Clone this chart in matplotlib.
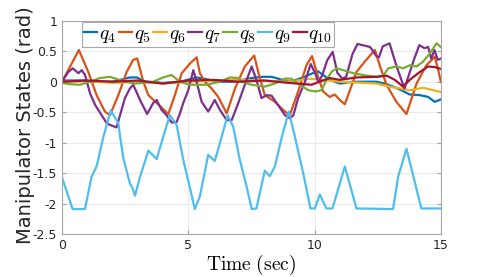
import matplotlib
matplotlib.use("Agg")
import matplotlib.pyplot as plt

plt.rcParams["mathtext.fontset"] = "cm"

# joint trajectories
t4 = [0, 0.9, 1.2, 2.0, 2.69, 2.96, 3.3, 4.0, 4.7, 5.33, 5.6, 6.2, 6.8, 7.51, 7.9, 8.3, 8.56, 9.0,
      9.27, 9.6, 9.93, 10.14, 10.34, 10.6, 11.0, 11.53, 12.45, 12.78, 13.11, 13.44, 13.77, 14.17,
      14.5, 14.76, 15]
q4 = [0.02, 0.02, 0.0, 0.0, 0.07, 0.07, 0.0, -0.02, 0.0, 0.07, 0.05, 0.0, 0.0, 0.06, 0.08, 0.08,
      0.05, 0.0, 0.03, 0.08, 0.14, 0.17, 0.11, 0.03, -0.03, 0.0, 0.0, -0.03, -0.08, -0.14, -0.21,
      -0.22, -0.25, -0.33, -0.29]

t5 = [0, 0.67, 1.04, 1.37, 1.7, 1.9, 2.23, 2.56, 2.82, 2.98, 3.22, 3.42, 3.75, 4.21, 4.47, 4.74,
      5.07, 5.33, 5.46, 5.66, 5.92, 6.19, 6.52, 6.85, 7.24, 7.61, 7.77, 8.03, 8.43, 8.83, 9.02,
      9.35, 9.68, 9.9, 10.14, 10.34, 10.6, 10.8, 11.0, 11.2, 11.4, 11.66, 11.99, 12.39, 12.58,
      12.85, 13.24, 13.64, 14.04, 14.43, 14.76, 14.9, 15]
q5 = [0.0, 0.52, 0.16, -0.22, -0.49, -0.55, -0.22, 0.16, 0.36, 0.38, 0.0, -0.22, -0.35, -0.53,
      -0.22, 0.14, 0.3, 0.4, 0.14, 0.0, -0.11, -0.25, -0.52, -0.11, 0.25, 0.43, 0.16, -0.22, -0.33,
      -0.49, -0.55, -0.16, 0.27, 0.42, 0.08, -0.16, -0.25, -0.21, -0.3, -0.37, -0.14, 0.16, 0.33,
      0.52, 0.27, -0.05, -0.33, -0.53, -0.03, 0.27, 0.41, 0.19, 0.0]

t6 = [0, 1, 2, 3, 4, 5, 6, 7, 8, 9, 9.81, 10.34, 11, 12.45, 12.98, 13.77, 14.3, 14.7, 15]
q6 = [0.0, 0.01, -0.02, 0.0, -0.03, 0.0, 0.02, 0.03, 0.02, 0.0, 0.05, 0.03, 0.0, -0.03, -0.08,
      -0.14, -0.1, -0.14, -0.17]

t7 = [0, 0.25, 0.42, 0.65, 0.78, 0.91, 1.11, 1.31, 1.57, 1.77, 1.9, 2.16, 2.36, 2.49, 2.69, 2.82,
      3.09, 3.37, 3.61, 3.75, 3.94, 4.14, 4.34, 4.54, 4.67, 4.8, 5.0, 5.2, 5.33, 5.53, 5.79, 6.05,
      6.25, 6.52, 6.72, 6.98, 7.24, 7.51, 7.7, 7.9, 8.1, 8.3, 8.5, 8.83, 9.02, 9.16, 9.35, 9.62,
      9.85, 10.0, 10.15, 10.3, 10.5, 10.72, 10.9, 11.1, 11.25, 11.5, 11.7, 12.2, 12.45, 12.55,
      12.7, 12.97, 13.25, 13.56, 13.95, 14.15, 14.35, 14.5, 14.62, 14.75, 14.88, 15]
q7 = [0.0, 0.16, 0.22, 0.14, 0.19, 0.11, -0.19, -0.38, -0.55, -0.68, -0.71, -0.75, -0.46, -0.27,
      -0.11, -0.05, -0.3, -0.53, -0.35, -0.3, -0.46, -0.55, -0.67, -0.66, -0.52, -0.35, -0.14,
      0.19, 0.0, -0.33, -0.49, -0.3, -0.46, -0.63, -0.63, -0.35, -0.05, 0.25, 0.03, -0.27, -0.22,
      -0.23, -0.35, -0.55, -0.6, -0.55, -0.27, 0.0, 0.29, 0.16, 0.0, 0.1, 0.35, 0.49, 0.15, 0.05,
      0.08, 0.45, 0.62, 0.57, 0.42, 0.4, 0.58, 0.63, 0.25, -0.11, 0.38, 0.6, 0.55, 0.57, 0.38,
      0.52, 0.36, 0.38]

t8 = [0, 0.32, 0.71, 1.1, 1.5, 1.9, 2.49, 2.9, 3.61, 4.0, 4.34, 4.67, 5.07, 5.73, 6.25, 6.65,
      6.98, 7.11, 7.51, 8.03, 8.43, 8.83, 9.09, 9.42, 9.75, 10.05, 10.27, 10.47, 10.67, 10.87,
      11.13, 11.53, 11.92, 12.45, 12.72, 12.92, 13.24, 13.5, 13.77, 14.04, 14.3, 14.56, 14.83, 15]
q8 = [-0.02, -0.04, -0.05, 0.0, 0.06, 0.08, 0.0, -0.03, 0.0, 0.07, 0.11, 0.0, -0.05, -0.05, 0.0,
      0.07, 0.06, 0.0, -0.05, -0.08, -0.03, 0.05, 0.05, -0.05, -0.14, -0.16, -0.14, 0.03, 0.16,
      0.22, 0.19, 0.14, 0.11, 0.08, 0.1, 0.22, 0.25, 0.22, 0.27, 0.25, 0.33, 0.46, 0.63, 0.57]

t9 = [0, 0.42, 0.91, 1.17, 1.37, 1.64, 1.93, 2.23, 2.3, 2.43, 2.69, 2.8, 2.89, 3.09, 3.42, 3.75,
      4.01, 4.27, 4.54, 4.8, 5.07, 5.26, 5.46, 5.79, 6.05, 6.25, 6.56, 6.78, 7.04, 7.31, 7.51,
      7.7, 8.03, 8.23, 8.43, 8.69, 8.98, 9.22, 9.55, 9.84, 10.01, 10.21, 10.47, 10.71, 11.2,
      11.66, 13.11, 13.31, 13.64, 14.23, 15]
q9 = [-1.57, -2.09, -2.09, -1.56, -1.39, -0.9, -0.47, -0.68, -0.9, -1.26, -1.67, -1.75, -1.87,
      -1.56, -1.13, -1.27, -0.9, -0.55, -0.71, -1.28, -1.75, -2.09, -1.88, -1.2, -1.3, -1.01,
      -0.55, -0.74, -1.28, -1.72, -2.09, -2.08, -1.46, -1.55, -1.39, -0.93, -0.49, -0.9, -1.5,
      -2.08, -2.08, -1.85, -2.08, -2.08, -1.39, -2.08, -2.09, -1.56, -1.1, -2.08, -2.08]

t10 = [0, 1, 2, 3, 4, 5, 6, 7, 8, 9, 9.88, 10.2, 10.6, 11.0, 11.66, 12.45, 12.85, 13.18, 13.5,
       13.77, 14.17, 14.5, 14.76, 15]
q10 = [0.0, 0.02, 0.0, 0.02, -0.03, 0.02, 0.03, 0.0, 0.02, -0.02, -0.05, 0.0, 0.06, 0.03, 0.07,
       0.08, 0.1, 0.03, -0.08, 0.03, 0.16, 0.25, 0.24, 0.21]

series = [(t4, q4, "#0072BD", "$q_{4}$"),
          (t5, q5, "#D95319", "$q_{5}$"),
          (t6, q6, "#EDB120", "$q_{6}$"),
          (t7, q7, "#7E2F8E", "$q_{7}$"),
          (t8, q8, "#77AC30", "$q_{8}$"),
          (t9, q9, "#4DBEEE", "$q_{9}$"),
          (t10, q10, "#A2142F", "$q_{10}$")]

fig = plt.figure(figsize=(4.86, 2.77), dpi=100)
ax = fig.add_axes([0.1276, 0.155, 0.7794, 0.770])

for t, q, c, lab in series:
    ax.plot(t, q, color=c, lw=1.6, label=lab)

ax.set_xlim(0, 15)
ax.set_ylim(-2.5, 1)
ax.set_xticks([0, 5, 10, 15])
ax.set_yticks([-2.5, -2, -1.5, -1, -0.5, 0, 0.5, 1])
ax.set_yticklabels(["-2.5", "-2", "-1.5", "-1", "-0.5", "0", "0.5", "1"])
ax.grid(True, color="#ebebeb", lw=0.8)
ax.set_axisbelow(True)
ax.tick_params(direction="in", length=3, top=True, right=True, labelsize=9,
               colors="#a0a0a0", labelcolor="#262626")
for s in ax.spines.values():
    s.set_color("#a8a8a8")
    s.set_linewidth(0.8)

ax.set_xlabel(r"$\mathrm{Time\ (sec)}$", fontsize=14, labelpad=1)
ax.set_ylabel("Manipulator States (rad)", fontsize=14, color="#262626")
ax.yaxis.set_label_coords(-0.072, 0.51)

leg = ax.legend(ncol=7, loc="upper left", bbox_to_anchor=(0.052, 0.995), fontsize=14,
                handlelength=0.7, handletextpad=0.1, columnspacing=0.12,
                borderpad=0.1, borderaxespad=0.0, fancybox=False, framealpha=1)
leg.get_frame().set_edgecolor("#a8a8a8")
leg.get_frame().set_linewidth(0.8)

fig.savefig("out.png", dpi=100)
